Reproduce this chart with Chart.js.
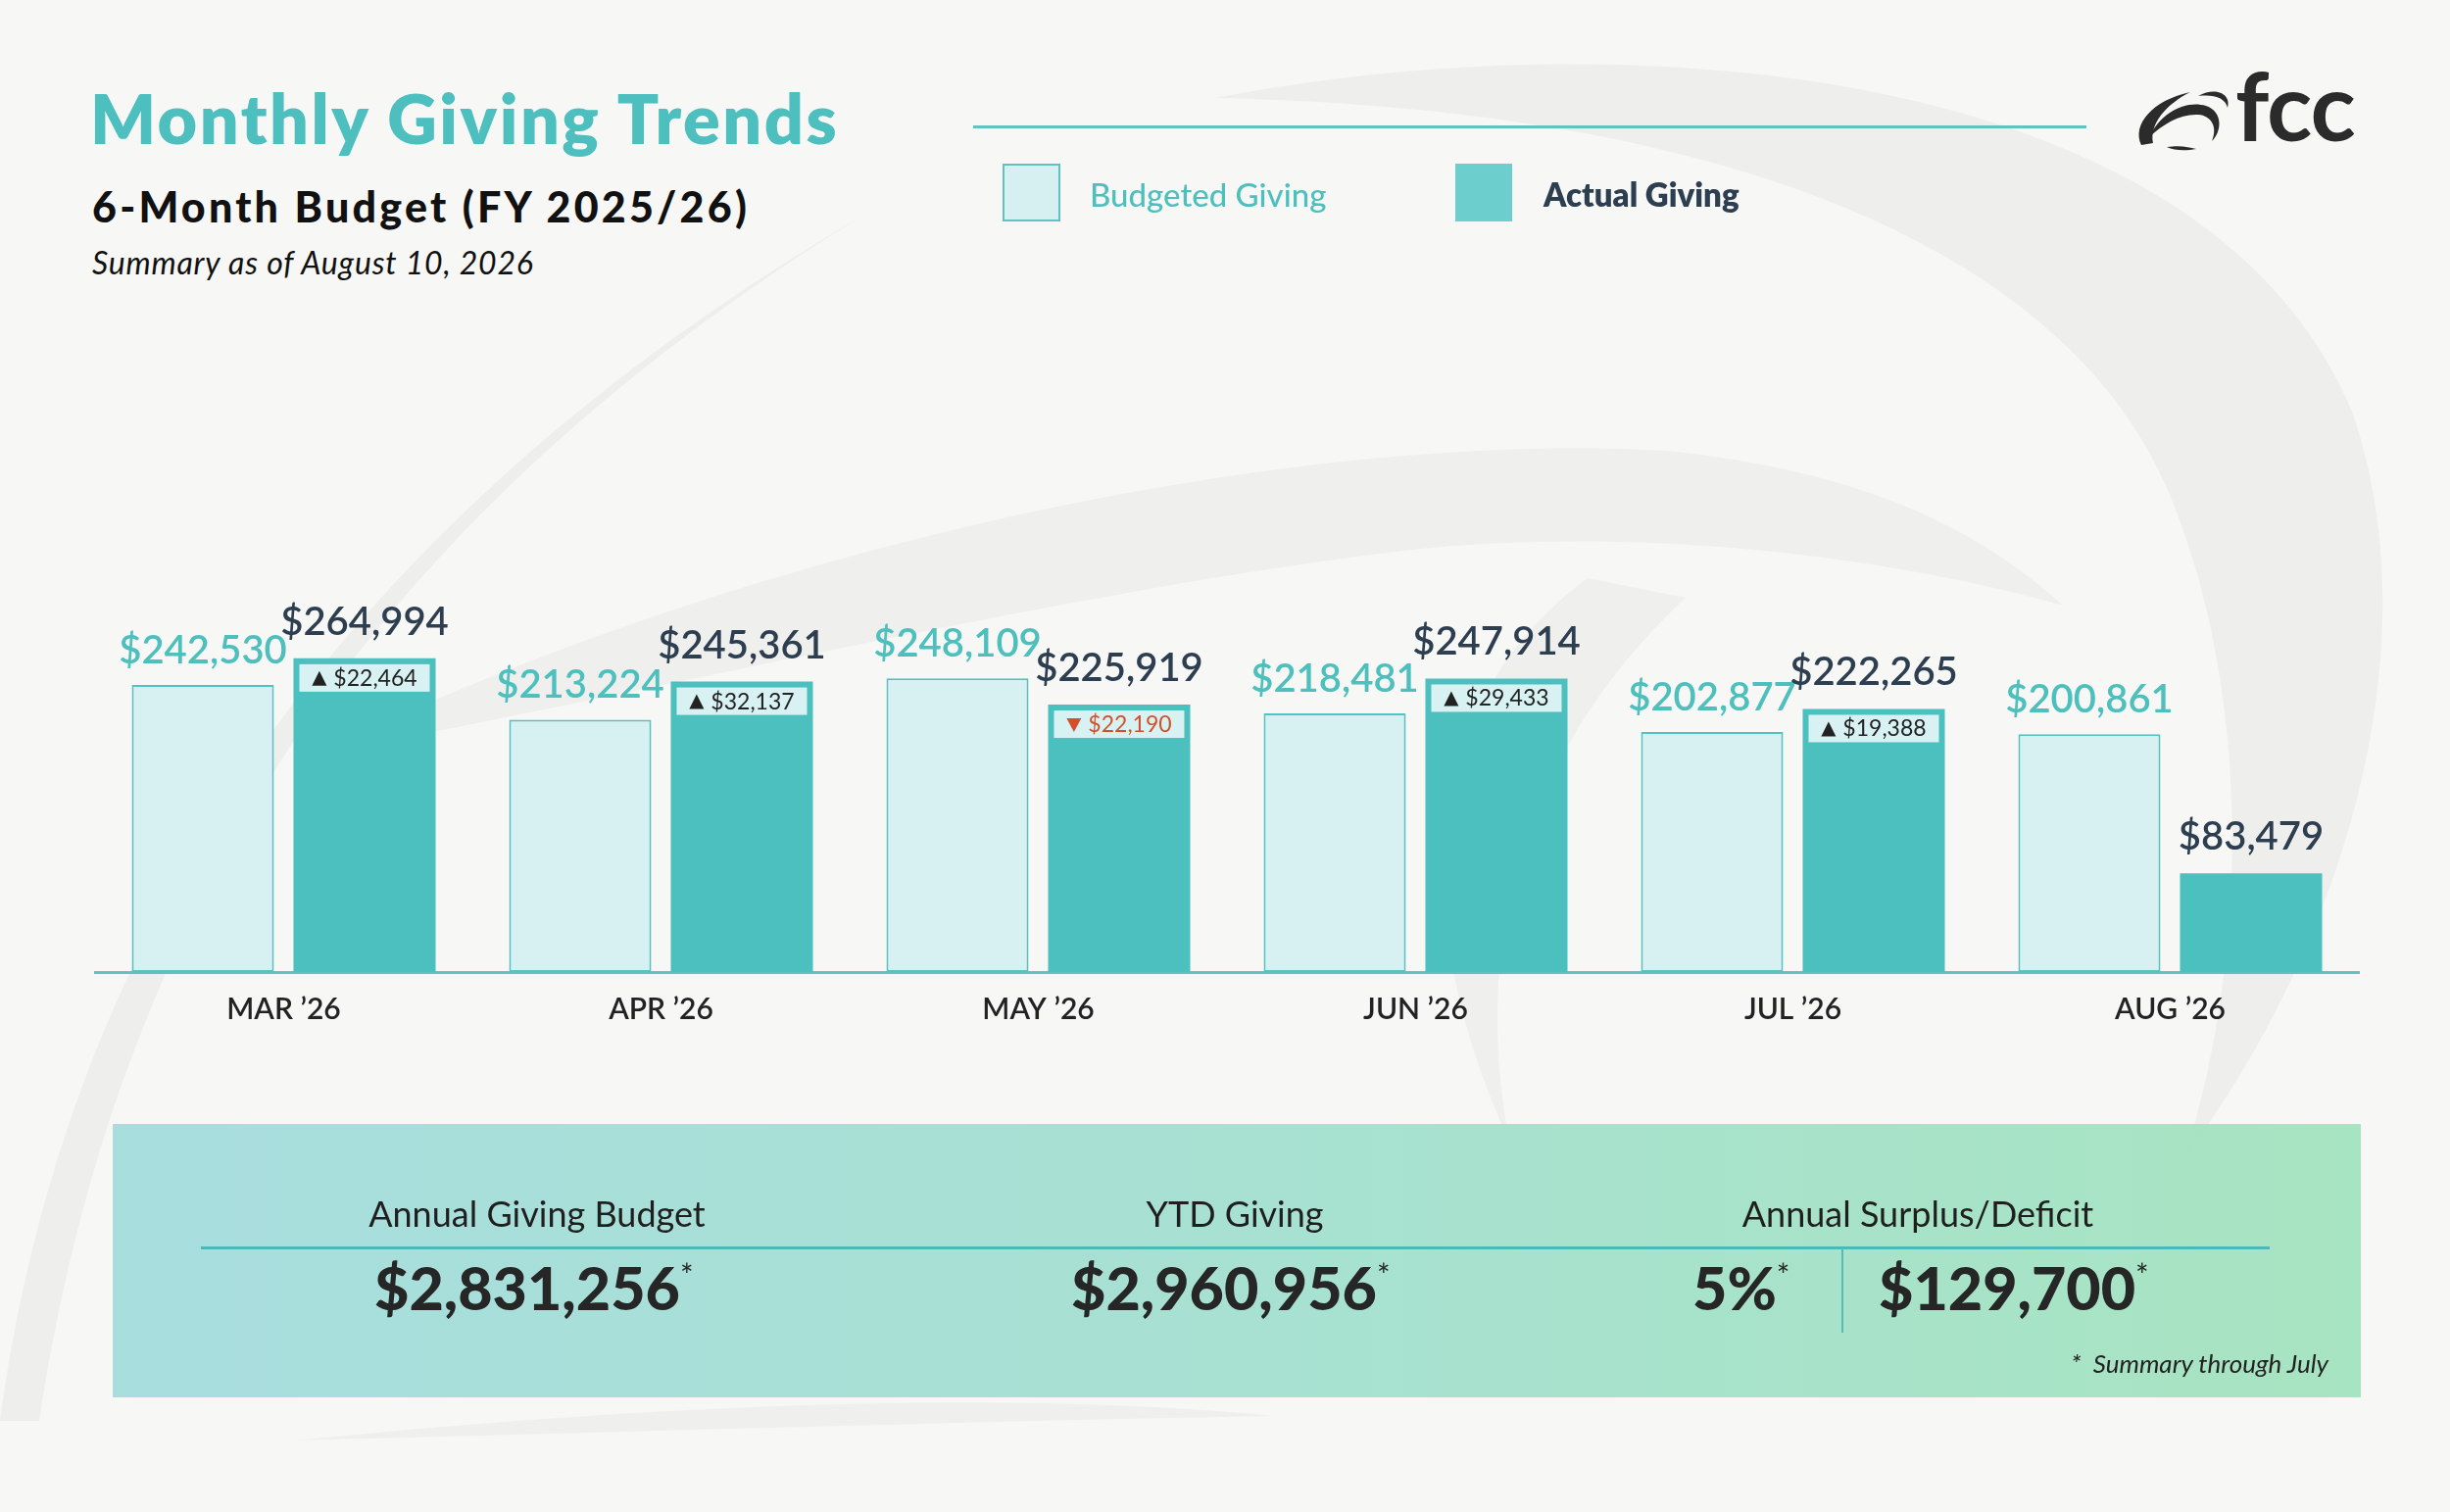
<!DOCTYPE html>
<html>
<head>
<meta charset="UTF-8">
<title>Monthly Giving Trends</title>
<script src="https://cdn.jsdelivr.net/npm/chart.js"></script>
<style>
    html, body { margin: 0; padding: 0; }
    body {
        width: 2500px; height: 1543px; overflow: hidden; position: relative;
        background: #f7f7f6; font-family: Lato, "Open Sans", sans-serif; color: #222;
    }
    .abs { position: absolute; white-space: nowrap; line-height: 1; }
    #bg { position: absolute; left: 0; top: 0; z-index: 0; }
    #chartBox { position: absolute; left: 0; top: 0; width: 2500px; height: 1543px; z-index: 2; }
    h1.abs { margin: 0; font-size: 70px; font-weight: 800; color: #4dbfbe; left: 92px; top: 85px; letter-spacing: 2.5px; }
    h2.abs { margin: 0; font-size: 43px; font-weight: 900; color: #111; left: 94px; top: 189px; letter-spacing: 3.2px; }
    .sub { font-size: 32px; font-style: italic; font-weight: 400; left: 94px; top: 252px; color: #111; letter-spacing: 0.8px; }
    .topline { position: absolute; left: 993px; top: 128px; width: 1136px; height: 3px; background: #5ec4c2; z-index: 1; }
    .legbox { position: absolute; top: 167px; width: 56px; height: 56px; z-index: 3; }
    .legtxt { font-size: 33px; top: 182px; z-index: 3; }
    #panel {
        position: absolute; left: 115px; top: 1147px; width: 2294px; height: 279px; z-index: 1;
        background: linear-gradient(90deg, rgba(164,220,221,0.95), rgba(163,224,206,0.95) 55%, rgba(163,227,190,0.95));
    }
    .plab { font-size: 36px; color: #1f1f1f; top: 1220px; z-index: 3; text-align: center; }
    .pval { font-size: 61px; font-weight: 900; color: #262626; top: 1283px; z-index: 3; }
    .pval sup { font-size: 32px; font-weight: 400; vertical-align: 24px; margin-left: 0; }
    .hline { position: absolute; left: 205px; top: 1272px; width: 2111px; height: 3px; background: #4cb9b8; z-index: 3; }
    .vline { position: absolute; left: 1879px; top: 1274px; width: 2px; height: 86px; background: #55bcb9; z-index: 3; }
    .note { font-size: 26px; font-style: italic; color: #222; top: 1378px; right: 124px; z-index: 3; }
    .logo { font-size: 96px; font-weight: 700; color: #2b2b2b; left: 2281px; top: 59px; z-index: 3; letter-spacing: -1px; }
</style>
<script>
    // chart data
    const months = ["MAR \u201926", "APR \u201926", "MAY \u201926", "JUN \u201926", "JUL \u201926", "AUG \u201926"];
    const budgeted = [242530, 213224, 248109, 218481, 202877, 200861];
    const actual = [264994, 245361, 225919, 247914, 222265, 83479];
    const variance = [22464, 32137, -22190, 29433, 19388, null];

    const TEAL = "#4dbfbd";
    const NAVY = "#2c3e50";

    function money(v) {
        return "$" + Math.abs(v).toLocaleString("en-US");
    }

    const barLabels = {
        id: "barLabels",
        afterDatasetsDraw(chart) {
            const ctx = chart.ctx;
            const mBud = chart.getDatasetMeta(0);
            const mAct = chart.getDatasetMeta(1);
            ctx.save();
            ctx.textAlign = "center";
            ctx.textBaseline = "alphabetic";
            mBud.data.forEach(function(bar, i) {
                ctx.font = "600 40px Lato";
                ctx.fillStyle = TEAL;
                ctx.fillText(money(budgeted[i]), bar.x, bar.y - 22);
            });
            mAct.data.forEach(function(bar, i) {
                ctx.font = "600 40px Lato";
                ctx.fillStyle = NAVY;
                ctx.fillText(money(actual[i]), bar.x, bar.y - 24);

                const d = variance[i];
                if (d === null) return;
                const left = bar.x - bar.width / 2 + 6;
                const top = bar.y + 6;
                ctx.fillStyle = "#d8f1f2";
                ctx.fillRect(left, top, bar.width - 12, 28);

                const col = d < 0 ? "#d2502c" : "#222222";
                ctx.font = "23px Lato";
                const txt = money(d);
                const tw = ctx.measureText(txt).width;
                const total = 15 + 7 + tw;
                const sx = bar.x - total / 2;
                const base = top + 22;
                ctx.fillStyle = col;
                ctx.beginPath();
                if (d >= 0) {
                    ctx.moveTo(sx, base);
                    ctx.lineTo(sx + 15, base);
                    ctx.lineTo(sx + 7.5, base - 15);
                } else {
                    ctx.moveTo(sx, base - 14);
                    ctx.lineTo(sx + 15, base - 14);
                    ctx.lineTo(sx + 7.5, base);
                }
                ctx.closePath();
                ctx.fill();
                ctx.textAlign = "left";
                ctx.fillText(txt, sx + 22, base);
                ctx.textAlign = "center";
            });
            ctx.restore();
        }
    };

    function drawChart() {
        const ctx = document.getElementById("givingChart").getContext("2d");
        new Chart(ctx, {
            type: "bar",
            data: {
                labels: months,
                datasets: [{
                    label: "Budgeted Giving",
                    data: budgeted,
                    backgroundColor: "#d7f0f1",
                    borderColor: "#56c2c0",
                    borderWidth: 2,
                    borderSkipped: false
                },
                {
                    label: "Actual Giving",
                    data: actual,
                    backgroundColor: "#4bc0be",
                    borderWidth: 0
                }]
            },
            options: {
                responsive: false,
                animation: false,
                devicePixelRatio: 1,
                layout: { padding: { left: 97, right: 93, top: 400, bottom: 0 } },
                datasets: { bar: { categoryPercentage: 0.857, barPercentage: 0.879 } },
                plugins: { legend: { display: false }, tooltip: { enabled: false } },
                scales: {
                    x: {
                        grid: { display: false, drawTicks: false },
                        border: { display: true, color: "#5cc3c1", width: 3 },
                        ticks: { color: "#222", padding: 20, font: { family: "Lato", size: 30, weight: "600" } },
                        afterFit: function(scale) { scale.height = 551; }
                    },
                    y: { display: false, min: 0, max: 490000 }
                }
            },
            plugins: [barLabels]
        });
    }
</script>
</head>
<body onload="drawChart()">
    <svg id="bg" width="2500" height="1543" viewBox="0 0 2500 1543">
        <!-- left swoosh -->
        <path d="M 0,1450 C 60,1000 300,560 880,220 C 380,530 120,920 40,1450 Z" fill="#eeeeec"/>
        <!-- outer ring, top and right -->
        <path d="M 1240,100 C 1650,20 2250,60 2400,420 C 2480,650 2400,950 2230,1180 C 2300,950 2290,700 2220,520 C 2120,250 1750,110 1240,100 Z" fill="#eeeeec"/>
        <!-- middle swoosh -->
        <path d="M 320,770 C 800,540 1350,440 1700,460 C 1900,480 2020,540 2105,618 C 1900,560 1650,540 1450,560 C 1100,600 700,700 320,770 Z" fill="#efefed"/>
        <!-- inner curl -->
        <path d="M 1620,590 C 1470,700 1420,900 1540,1165 C 1500,950 1560,760 1720,610 Z" fill="#efefed"/>
        <!-- lower band under the panel -->
        <path d="M 300,1470 C 700,1430 1050,1420 1300,1445 C 1000,1450 700,1460 300,1470 Z" fill="#efefed"/>
    </svg>

    <h1 class="abs">Monthly Giving Trends</h1>
    <h2 class="abs">6-Month Budget (FY 2025/26)</h2>
    <div class="abs sub">Summary as of August 10, 2026</div>

    <div class="topline"></div>
    <div class="legbox" style="left:1023px; background:#d6f0f1; border:2px solid #5cc3c1; width:55px; height:55px;"></div>
    <div class="abs legtxt" style="left:1112px; color:#4dbfbd; font-weight:500;">Budgeted Giving</div>
    <div class="legbox" style="left:1485px; background:#6ccfcd; width:58px; height:59px;"></div>
    <div class="abs legtxt" style="left:1575px; color:#2c3e50; font-weight:800;">Actual Giving</div>

    <svg class="abs" style="left:2175px; top:82px; z-index:3;" width="110" height="72" viewBox="0 0 110 72">
        <path d="M 10,66 C 0,45 22,20 60,12 C 36,24 18,44 22,64 Z" fill="#2b2b2b"/>
        <path d="M 18,58 C 30,32 56,20 76,26 C 94,32 92,53 82,62 C 88,48 82,36 68,35 C 50,34 33,44 18,58 Z" fill="#2b2b2b"/>
        <path d="M 36,68 C 50,66 58,68 66,70 C 56,72 44,72 36,68 Z" fill="#2b2b2b"/>
        <path d="M 68,16 C 86,6 102,14 98,28 C 96,18 84,14 68,16 Z" fill="#2b2b2b"/>
    </svg>
    <div class="abs logo">fcc</div>

    <div id="chartBox"><canvas id="givingChart" width="2500" height="1543"></canvas></div>

    <div id="panel"></div>
    <div class="abs plab" style="left:348px; width:400px;">Annual Giving Budget</div>
    <div class="abs plab" style="left:1060px; width:400px;">YTD Giving</div>
    <div class="abs plab" style="left:1757px; width:400px;">Annual Surplus/Deficit</div>
    <div class="hline"></div>
    <div class="vline"></div>
    <div class="abs pval" style="left:382px;">$2,831,256<sup>*</sup></div>
    <div class="abs pval" style="left:1093px;">$2,960,956<sup>*</sup></div>
    <div class="abs pval" style="left:1727px;">5%<sup>*</sup></div>
    <div class="abs pval" style="left:1917px;">$129,700<sup>*</sup></div>
    <div class="abs note">*&nbsp; Summary through July</div>
</body>
</html>
